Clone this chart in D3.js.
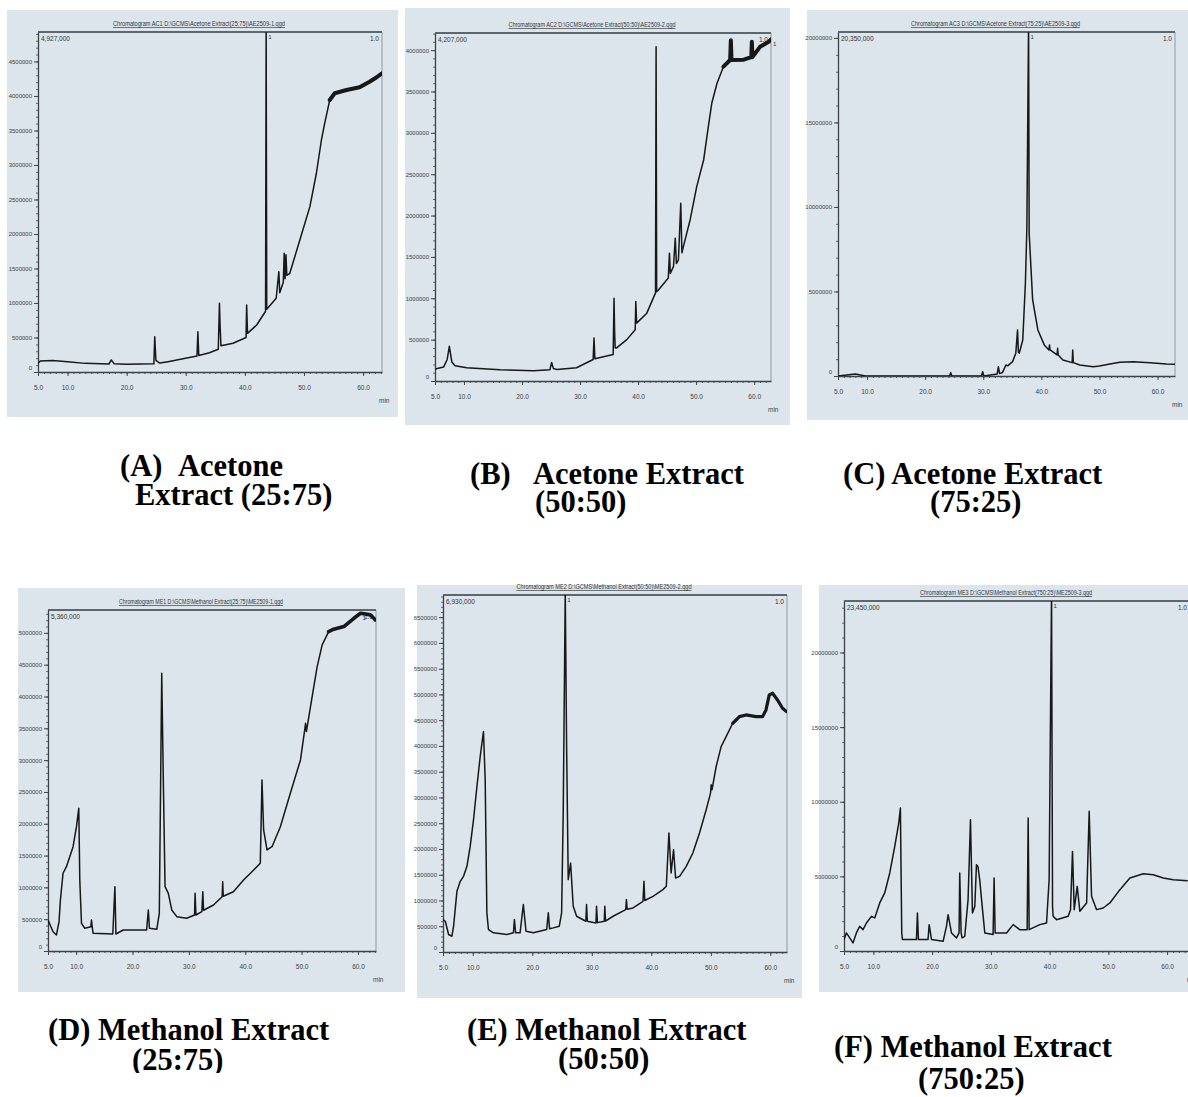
<!DOCTYPE html>
<html>
<head>
<meta charset="utf-8">
<script src="https://cdn.jsdelivr.net/npm/d3@7"></script>
<style>
  body { margin: 0; background: #fff; }
  svg { display: block; }
  .tick text { font-family: "Liberation Sans", Arial, sans-serif; fill: #3a3f44; }
  .caption { font-family: "Liberation Serif", "Times New Roman", serif; font-weight: bold; fill: #000; }
</style>
</head>
<body>
<div id="chart"></div>
<script>
// retention time ticks (min), shared by all six chromatograms
var xTicks = [5, 10, 20, 30, 40, 50, 60];

// y tick values (TIC intensity) for each chromatogram
var yTicksA = [0, 500000, 1000000, 1500000, 2000000, 2500000, 3000000, 3500000, 4000000, 4500000];
var yTicksB = [0, 500000, 1000000, 1500000, 2000000, 2500000, 3000000, 3500000, 4000000];
var yTicksC = [0, 5000000, 10000000, 15000000, 20000000];
var yTicksD = [0, 500000, 1000000, 1500000, 2000000, 2500000, 3000000, 3500000, 4000000, 4500000, 5000000];
var yTicksE = [0, 500000, 1000000, 1500000, 2000000, 2500000, 3000000, 3500000, 4000000, 4500000, 5000000, 5500000, 6000000, 6500000];
var yTicksF = [0, 5000000, 10000000, 15000000, 20000000];

// traces: [retention time (min), intensity]
var traceA = [[5.0,126000],[5.4,159000],[7.5,165000],[10,150000],[13,125000],[17.0,116000],[17.4,174000],[17.9,118000],[20,112000],[24.6,118000],[24.75,512000],[24.95,170000],[25.6,130000],[27,150000],[29.1,184000],[31.9,232000],[32.05,584000],[32.2,240000],[34,280000],[35.5,329000],[35.7,996000],[35.8,681000],[35.95,380000],[38,416000],[40.2,500000],[40.3,971000],[40.45,560000],[42,681000],[43.5,880000],[43.6,5100000],[43.7,910000],[45.3,1068000],[45.75,1454000],[45.9,1150000],[46.5,1300000],[46.65,1720000],[46.8,1350000],[46.95,1700000],[47.1,1400000],[47.6,1430000],[49.3,1913000],[51.0,2396000],[52.1,2880000],[52.95,3362000],[53.5,3604000],[54.36,3942000],[55.2,4039000],[57.2,4087000],[59.4,4126000],[61.1,4207000],[62.3,4271000],[63.2,4329000]];

var traceB = [[5.0,145000],[6.5,170000],[7.1,260000],[7.47,420000],[7.9,230000],[8.45,185000],[10.46,160000],[16.2,135000],[21.95,125000],[24.8,135000],[25.1,225000],[25.4,150000],[26.0,140000],[29.4,160000],[32.25,260000],[32.4,520000],[32.55,270000],[35.7,320000],[35.85,1000000],[35.95,600000],[36.05,400000],[36.3,400000],[38.05,500000],[39.5,620000],[39.6,960000],[39.75,700000],[41.5,820000],[43.0,1065000],[43.1,4040000],[43.2,1080000],[43.5,1100000],[45.2,1245000],[45.4,1545000],[45.55,1300000],[46.1,1385000],[46.4,1725000],[46.6,1420000],[46.95,1465000],[47.35,2150000],[47.55,1550000],[47.8,1625000],[48.97,1950000],[50.1,2350000],[51.3,2675000],[52.1,3075000],[52.7,3360000],[53.6,3600000],[54.7,3800000],[55.86,3880000],[55.98,4120000],[56.1,3880000],[58.2,3885000],[59.5,3915000],[59.6,4100000],[59.7,3915000],[61.0,4040000],[62.5,4100000],[62.9,4130000]];

var traceC = [[5.0,0],[8.0,120000],[9.7,0],[15.5,0],[24.2,0],[24.4,200000],[24.6,0],[29.7,0],[29.9,250000],[30.1,0],[32.4,120000],[32.6,550000],[32.8,150000],[33.3,200000],[33.9,650000],[34.2,600000],[35.05,850000],[35.6,1350000],[35.9,2725000],[36.05,1400000],[36.2,1350000],[36.8,2130000],[37.25,5490000],[37.5,8650000],[37.8,21000000],[37.9,8450000],[38.5,4500000],[39.4,2725000],[40.5,1840000],[41.3,1540000],[41.4,1840000],[41.5,1540000],[42.7,1245000],[42.8,1640000],[42.9,1245000],[43.7,950000],[45.3,790000],[45.4,1540000],[45.5,790000],[46.6,650000],[48.9,550000],[50.0,590000],[51.8,710000],[53.5,810000],[55.8,850000],[58.7,790000],[61.5,710000],[63.0,690000]];

var traceD = [[5.0,487000],[5.9,303000],[6.5,252000],[6.96,461000],[7.2,802000],[7.67,1222000],[8.27,1325000],[8.86,1483000],[9.45,1640000],[10.05,1954000],[10.46,2243000],[10.64,1116000],[10.94,435000],[11.53,357000],[12.6,380000],[12.72,487000],[12.85,380000],[13.0,278000],[16.5,267000],[16.87,1011000],[17.05,267000],[18.35,330000],[22.5,330000],[22.8,645000],[23.0,357000],[24.3,341000],[24.75,593000],[25.18,4366000],[25.46,2689000],[25.77,1011000],[26.35,907000],[26.96,645000],[27.85,540000],[29.6,514000],[31.0,566000],[31.1,907000],[31.25,566000],[32.3,618000],[32.47,933000],[32.6,640000],[34.36,723000],[35.9,854000],[36.0,1090000],[36.1,860000],[37.9,932000],[39.7,1116000],[41.5,1274000],[42.67,1379000],[42.97,2689000],[43.26,1903000],[43.86,1588000],[44.75,1640000],[46.23,1954000],[48.0,2479000],[49.8,3003000],[50.55,3475000],[50.7,3580000],[50.85,3450000],[51.87,3998000],[52.76,4470000],[53.65,4811000],[54.8,5020000],[55.7,5058000],[57.5,5099000],[59.27,5230000],[60.46,5308000],[62.24,5283000],[63.1,5204000]];

var traceE = [[5.0,630000],[5.39,597000],[5.94,339000],[6.5,306000],[6.78,500000],[7.34,1178000],[7.9,1372000],[8.45,1469000],[9.02,1663000],[9.57,2050000],[10.13,2568000],[10.7,3213000],[11.25,3795000],[11.8,4279000],[12.09,3343000],[12.37,760000],[12.64,436000],[13.48,372000],[15.72,339000],[16.83,372000],[17.0,630000],[17.2,372000],[17.95,372000],[18.5,921000],[18.95,403000],[20.18,372000],[22.42,436000],[22.7,760000],[22.9,450000],[23.53,468000],[24.54,500000],[24.93,760000],[25.2,2698000],[25.54,7000000],[25.77,3988000],[26.04,1405000],[26.44,1728000],[26.88,888000],[27.45,694000],[29.0,597000],[29.12,921000],[29.25,597000],[30.7,565000],[30.8,888000],[30.95,570000],[32.1,597000],[32.19,888000],[32.3,600000],[33.58,694000],[35.7,824000],[35.82,1017000],[35.95,830000],[36.93,856000],[38.6,985000],[38.77,1372000],[38.9,1000000],[40.28,1081000],[41.95,1211000],[42.52,1275000],[42.96,2310000],[43.33,1534000],[43.74,1986000],[44.08,1437000],[44.75,1469000],[45.87,1663000],[46.98,1922000],[48.1,2310000],[49.22,2762000],[49.95,3085000],[50.06,3246000],[50.2,3150000],[50.9,3601000],[51.73,3988000],[52.57,4182000],[53.68,4440000],[54.8,4569000],[55.92,4602000],[57.6,4569000],[58.7,4569000],[59.27,4699000],[59.82,4990000],[60.38,5023000],[61.2,4893000],[62.05,4731000],[62.72,4667000]];

var traceF = [[5.0,763000],[5.41,1209000],[5.97,876000],[6.53,542000],[7.11,1209000],[7.67,1653000],[8.24,1432000],[8.82,1878000],[9.67,2323000],[10.23,2216000],[11.08,3220000],[11.93,3889000],[12.79,5228000],[13.64,7008000],[14.32,8574000],[14.6,9578000],[14.83,1209000],[14.95,763000],[16.76,763000],[17.33,763000],[17.5,2550000],[17.67,763000],[19.3,763000],[19.5,1767000],[19.9,763000],[21.87,650000],[22.44,1653000],[22.72,2436000],[23.3,1209000],[24.15,876000],[24.59,1209000],[24.7,5228000],[24.94,1209000],[25.1,876000],[25.56,987000],[26.12,3443000],[26.53,8796000],[26.87,2550000],[27.27,2993000],[27.55,5787000],[27.8,5670000],[28.1,4779000],[28.58,2771000],[28.97,1209000],[30.38,1099000],[30.55,4892000],[30.73,1209000],[32.67,1209000],[33.8,1767000],[34.9,1432000],[36.18,1432000],[36.35,8908000],[36.52,1432000],[38.34,1767000],[39.48,1878000],[39.92,4779000],[40.33,24000000],[40.5,2993000],[40.6,2323000],[41.18,2100000],[43.16,2323000],[43.56,2771000],[43.9,6674000],[44.19,2771000],[44.7,4330000],[45.15,2659000],[46.3,3220000],[46.74,9355000],[47.14,3666000],[48.0,2771000],[49.12,2882000],[50.26,3220000],[51.97,4110000],[53.67,4892000],[55.94,5181000],[57.64,5114000],[59.35,4892000],[61.05,4779000],[63.5,4713000]];

// file names shown above each chromatogram
var titles = [
  "Chromatogram AC1 D:\\GCMS\\Acetone Extract(25:75)\\AE2509-1.qgd",
  "Chromatogram AC2 D:\\GCMS\\Acetone Extract(50:50)\\AE2509-2.qgd",
  "Chromatogram AC3 D:\\GCMS\\Acetone Extract(75:25)\\AE2509-3.qgd",
  "Chromatogram ME1 D:\\GCMS\\Methanol Extract(25:75)\\ME2509-1.qgd",
  "Chromatogram ME2 D:\\GCMS\\Methanol Extract(50:50)\\ME2509-2.qgd",
  "Chromatogram ME3 D:\\GCMS\\Methanol Extract(750:25)\\ME2509-3.qgd"
];

// figure captions (two lines each)
var captionLine1 = [["(A)", "Acetone"], ["(B)", "Acetone Extract"], ["(C) Acetone Extract"],
                    ["(D) Methanol Extract"], ["(E) Methanol Extract"], ["(F) Methanol Extract"]];
var captionLine2 = ["Extract (25:75)", "(50:50)", "(75:25)", "(25:75)", "(50:50)", "(750:25)"];

// layout table: background box, plot box, domain ends
var panels = [
  {id: "A", trace: traceA, yTicks: yTicksA, yMax: 4927000, xEnd: 63.2, noiseFrom: 54.2, noiseW: 4,
   bg: [7, 10, 398, 417], plot: [38, 32, 382, 372], titleW: 172,
   cap: {y1: 476, y2: 505, x1: [120, 178], x2: 135}},
  {id: "B", trace: traceB, yTicks: yTicksB, yMax: 4207000, xEnd: 62.9, noiseFrom: 54.5, noiseW: 4,
   bg: [405, 8, 790, 425], plot: [435, 33, 771, 381], titleW: 167,
   cap: {y1: 484, y2: 512, x1: [470, 533], x2: 535}},
  {id: "C", trace: traceC, yTicks: yTicksC, yMax: 20350000, xEnd: 63.0, noiseFrom: null, noiseW: 0,
   bg: [807, 10, 1188, 420], plot: [838, 32, 1175, 376], titleW: 169,
   cap: {y1: 484, y2: 512, x1: [843], x2: 930}},
  {id: "D", trace: traceD, yTicks: yTicksD, yMax: 5360000, xEnd: 63.2, noiseFrom: 54.5, noiseW: 3.6,
   bg: [18, 588, 405, 992], plot: [48, 610, 376, 951], titleW: 164,
   cap: {y1: 1040, y2: 1070, x1: [48], x2: 132, clip: 1073}},
  {id: "E", trace: traceE, yTicks: yTicksE, yMax: 6930000, xEnd: 62.8, noiseFrom: 53.5, noiseW: 3.2,
   bg: [417, 585, 802, 998], plot: [443, 595, 787, 952], titleW: 175,
   cap: {y1: 1040, y2: 1069, x1: [467], x2: 558}},
  {id: "F", trace: traceF, yTicks: yTicksF, yMax: 23450000, xEnd: 63.9, noiseFrom: null, noiseW: 0,
   bg: [819, 585, 1188, 992], plot: [844, 601, 1190, 951], titleW: 172,
   cap: {y1: 1057, y2: 1089, x1: [834], x2: 918}}
];

var width = 1188, height = 1097;
var svg = d3.select("#chart").append("svg")
    .attr("width", width)
    .attr("height", height);

var defs = svg.append("defs");

panels.forEach(function(p, i) {
    var bx0 = p.bg[0], by0 = p.bg[1], bx1 = p.bg[2], by1 = p.bg[3];
    var x0 = p.plot[0], y0 = p.plot[1], x1 = p.plot[2], y1 = p.plot[3];

    var x = d3.scaleLinear().domain([5, p.xEnd]).range([x0, x1]);
    var y = d3.scaleLinear().domain([0, p.yMax]).range([y1, y0]);

    var g = svg.append("g");

    //screenshot background
    g.append("rect")
        .attr("x", bx0).attr("y", by0)
        .attr("width", bx1 - bx0).attr("height", by1 - by0)
        .attr("fill", "#dbe5eb");

    defs.append("clipPath").attr("id", "clip" + p.id)
      .append("rect")
        .attr("x", x0).attr("y", y0)
        .attr("width", x1 - x0).attr("height", y1 - y0);

    //frame: light right edge, heavy top edge
    g.append("line")
        .attr("x1", x1).attr("x2", x1).attr("y1", y0).attr("y2", y1)
        .attr("stroke", "#8f9aa1").attr("stroke-width", 1);
    g.append("line")
        .attr("x1", x0).attr("x2", x1).attr("y1", y0).attr("y2", y0)
        .attr("stroke", "#5d666c").attr("stroke-width", 1.8);

    //minor ticks on x, every minute
    g.append("g")
        .attr("transform", "translate(0," + y1 + ")")
        .call(d3.axisBottom(x).tickValues(d3.range(5, p.xEnd, 1)).tickSize(2).tickSizeOuter(0).tickFormat(""))
        .call(function(a) { a.select(".domain").remove(); a.selectAll("line").attr("stroke", "#555"); });

    //x axis
    g.append("g")
        .attr("transform", "translate(0," + y1 + ")")
        .call(d3.axisBottom(x).tickValues(xTicks).tickSize(4).tickSizeOuter(0).tickPadding(9)
              .tickFormat(d3.format(".1f")))
        .call(function(a) {
            a.select(".domain").attr("stroke", "#3c4247").attr("stroke-width", 1.3);
            a.selectAll("line").attr("stroke", "#444");
            a.selectAll("text").attr("font-size", 6.5);
        });

    //minor ticks on y
    var step = p.yTicks[1];
    g.append("g")
        .attr("transform", "translate(" + x0 + ",0)")
        .call(d3.axisLeft(y).tickValues(d3.range(0, p.yMax, step / 5)).tickSize(2).tickSizeOuter(0).tickFormat(""))
        .call(function(a) { a.select(".domain").remove(); a.selectAll("line").attr("stroke", "#666"); });

    //y axis
    g.append("g")
        .attr("transform", "translate(" + x0 + ",0)")
        .call(d3.axisLeft(y).tickValues(p.yTicks).tickSize(4).tickSizeOuter(0).tickPadding(2)
              .tickFormat(d3.format("d")))
        .call(function(a) {
            a.select(".domain").attr("stroke", "#3c4247").attr("stroke-width", 1.3);
            a.selectAll("line").attr("stroke", "#444");
            a.selectAll("text").attr("font-size", 6);
            a.selectAll(".tick").filter(function(d) { return d === 0; })
             .select("text").attr("dy", "-0.4em");
        });

    //unit label
    g.append("text")
        .attr("x", x1 - 3).attr("y", y1 + 31)
        .attr("font-family", "Liberation Sans, Arial, sans-serif")
        .attr("font-size", 6.5).attr("fill", "#3a3f44")
        .text("min");

    //title line above the plot
    g.append("text")
        .attr("x", (x0 + x1) / 2 - 11).attr("y", y0 - 6)
        .attr("text-anchor", "middle")
        .attr("font-family", "Liberation Sans, Arial, sans-serif")
        .attr("font-size", 6.5).attr("fill", "#30353a")
        .attr("text-decoration", "underline")
        .attr("textLength", p.titleW).attr("lengthAdjust", "spacingAndGlyphs")
        .text(titles[i]);

    //max intensity in the upper left corner, scale factor upper right
    g.append("text")
        .attr("x", x0 + 3).attr("y", y0 + 9)
        .attr("font-family", "Liberation Sans, Arial, sans-serif")
        .attr("font-size", 6.5).attr("fill", "#2f3438")
        .text(d3.format(",")(p.yMax));
    g.append("text")
        .attr("x", x1 - 3).attr("y", y0 + 9)
        .attr("text-anchor", "end")
        .attr("font-family", "Liberation Sans, Arial, sans-serif")
        .attr("font-size", 6.5).attr("fill", "#2f3438")
        .text("1.0");

    //the trace
    var line = d3.line()
        .x(function(d) { return x(d[0]); })
        .y(function(d) { return y(d[1]); });

    g.append("path")
        .datum(p.trace)
        .attr("clip-path", "url(#clip" + p.id + ")")
        .attr("d", line)
        .attr("fill", "none")
        .attr("stroke", "#161819")
        .attr("stroke-width", 1.5)
        .attr("stroke-linejoin", "round");

    //detector noise makes the late plateau look heavier
    if (p.noiseFrom !== null) {
        g.append("path")
            .datum(p.trace.filter(function(d) { return d[0] >= p.noiseFrom; }))
            .attr("clip-path", "url(#clip" + p.id + ")")
            .attr("d", line)
            .attr("fill", "none")
            .attr("stroke", "#161819")
            .attr("stroke-width", p.noiseW)
            .attr("stroke-linejoin", "round")
            .attr("stroke-linecap", "round");
    }

    //peak number of the largest peak
    var top = d3.greatest(p.trace, function(d) { return d[1]; });
    g.append("text")
        .attr("x", x(top[0]) + 2).attr("y", Math.max(y(top[1]), y0) + 7)
        .attr("font-family", "Liberation Sans, Arial, sans-serif")
        .attr("font-size", 6).attr("fill", "#2f3438")
        .text("1");

    //caption
    var cg = svg.append("g").attr("class", "caption").attr("font-size", 30.5);
    if (p.cap.clip) {
        defs.append("clipPath").attr("id", "capclip" + p.id)
          .append("rect").attr("x", 0).attr("y", p.cap.y1 - 40)
          .attr("width", 420).attr("height", p.cap.clip - (p.cap.y1 - 40));
        cg.attr("clip-path", "url(#capclip" + p.id + ")");
    }
    captionLine1[i].forEach(function(s, k) {
        cg.append("text").attr("x", p.cap.x1[k]).attr("y", p.cap.y1).text(s);
    });
    cg.append("text").attr("x", p.cap.x2).attr("y", p.cap.y2).text(captionLine2[i]);
});
</script>
</body>
</html>
